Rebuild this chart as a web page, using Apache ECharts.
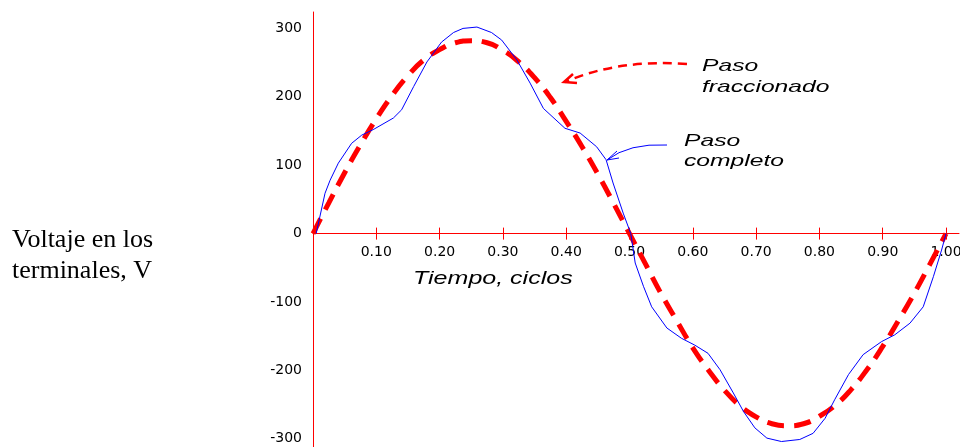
<!DOCTYPE html>
<html>
<head>
<meta charset="utf-8">
<title>Voltaje en los terminales</title>
<script src="https://cdn.jsdelivr.net/npm/echarts@6/dist/echarts.min.js"></script>
<style>
    html, body { margin: 0; padding: 0; background: #fff; }
    #chart { width: 960px; height: 447px; }
</style>
</head>
<body>
<div id="chart"></div>
<script>
// Paso fraccionado (linea roja discontinua)
var fracTime = [0, 0.025, 0.05, 0.075, 0.1, 0.125, 0.15, 0.175, 0.2, 0.225, 0.25, 0.275, 0.3, 0.325, 0.35, 0.375, 0.4, 0.425, 0.45, 0.475, 0.5,
    0.525, 0.55, 0.575, 0.6, 0.625, 0.65, 0.675, 0.7, 0.725, 0.75, 0.775, 0.8, 0.825, 0.85, 0.875, 0.9, 0.925, 0.95, 0.975, 1.0];
var fracVolt = [0, 45, 89, 130, 168, 202, 231, 254, 269, 279, 282, 279, 268, 251, 228, 199, 164, 127, 87, 44, 0,
    -44, -88, -128, -167, -200, -229, -252, -268, -278, -281, -278, -267, -251, -228, -199, -165, -127, -87, -44, 0];

// Paso completo (linea azul)
var fullTime = [0.005, 0.019, 0.027, 0.040, 0.061, 0.077, 0.095, 0.127, 0.140, 0.159, 0.180, 0.203, 0.222, 0.237, 0.259,
    0.282, 0.298, 0.322, 0.343, 0.364, 0.398, 0.422, 0.448, 0.463, 0.474, 0.490, 0.502, 0.509, 0.522, 0.535,
    0.559, 0.582, 0.603, 0.624, 0.643, 0.664, 0.680, 0.698, 0.717, 0.740, 0.769, 0.790, 0.809, 0.824, 0.846,
    0.869, 0.898, 0.919, 0.943, 0.964, 0.980, 0.993, 1.000];
var fullVolt = [0, 59, 78, 103, 132, 144, 152, 169, 181, 215, 251, 280, 294, 300, 302,
    294, 283, 254, 220, 183, 154, 147, 127, 108, 74, 30, 0, -43, -77, -107,
    -138, -153, -163, -175, -199, -233, -260, -284, -299, -304, -301, -292, -270, -243, -206,
    -177, -158, -148, -131, -107, -63, -24, 0];

var xTicks = [0.1, 0.2, 0.3, 0.4, 0.5, 0.6, 0.7, 0.8, 0.9, 1.0];
var yTicks = [-300, -200, -100, 0, 100, 200, 300];

var X_MIN = 0, X_MAX = 1.0205;
var Y_MIN = -312, Y_MAX = 324;

var RED = '#ff0000';
var BLUE = '#0000ff';
var SANS = 'Liberation Sans, Arial, sans-serif';

var PLOT_TOP = 12;
var PLOT_H = 447 - PLOT_TOP;
// el eje de tiempo va en y = 0: una segunda rejilla termina justo ahi
var zeroFromBottom = 447 - (PLOT_TOP + PLOT_H * Y_MAX / (Y_MAX - Y_MIN));

function toPairs(xs, ys) {
    var res = [];
    for (var i = 0; i < xs.length; i++) {
        res.push([xs[i], ys[i]]);
    }
    return res;
}

// texto estirado en horizontal, como en la figura original
function wideText(text, x, y, size, stretch) {
    return {
        type: 'text',
        x: x,
        y: y,
        scaleX: stretch,
        silent: true,
        style: {
            text: text,
            fontSize: size,
            fontStyle: 'italic',
            fontFamily: SANS,
            fill: '#000',
            textAlign: 'left',
            textVerticalAlign: 'middle',
            align: 'left',
            verticalAlign: 'middle'
        }
    };
}

function serifText(text, x, y) {
    return {
        type: 'text',
        x: x,
        y: y,
        silent: true,
        style: {
            text: text,
            fontSize: 26,
            fontFamily: 'Liberation Serif, Times New Roman, serif',
            fill: '#000',
            textAlign: 'left',
            textVerticalAlign: 'middle',
            align: 'left',
            verticalAlign: 'middle'
        }
    };
}

function timeAxis(inside) {
    return {
        type: 'value',
        gridIndex: 1,
        min: X_MIN,
        max: X_MAX,
        position: 'bottom',
        axisLine: {
            show: !inside,
            onZero: false,
            lineStyle: { color: RED, width: 1 }
        },
        axisTick: {
            show: true,
            inside: inside,
            length: 6,
            customValues: xTicks,
            lineStyle: { color: RED, width: 1 }
        },
        axisLabel: {
            show: !inside,
            customValues: xTicks,
            margin: 12,
            color: '#000',
            fontSize: 14,
            fontFamily: 'DejaVu Sans, sans-serif',
            formatter: function (value) {
                return value.toFixed(2);
            }
        },
        splitLine: { show: false }
    };
}

var myChart = echarts.init(document.getElementById('chart'));

var option = {
    animation: false,
    backgroundColor: '#fff',
    grid: [{
            left: 313,
            right: 1,
            top: PLOT_TOP,
            bottom: 0,
            outerBoundsMode: 'none'
        },
        {
            left: 313,
            right: 1,
            top: PLOT_TOP,
            bottom: zeroFromBottom,
            outerBoundsMode: 'none'
        }
    ],
    xAxis: [{
            type: 'value',
            gridIndex: 0,
            min: X_MIN,
            max: X_MAX,
            show: false
        },
        timeAxis(false),
        timeAxis(true)
    ],
    yAxis: [{
            type: 'value',
            gridIndex: 0,
            min: Y_MIN,
            max: Y_MAX,
            position: 'left',
            axisLine: {
                show: true,
                onZero: false,
                lineStyle: { color: RED, width: 1 }
            },
            axisTick: { show: false },
            axisLabel: {
                customValues: yTicks,
                margin: 11,
                color: '#000',
                fontSize: 14,
                fontFamily: 'DejaVu Sans, sans-serif'
            },
            splitLine: { show: false }
        },
        {
            type: 'value',
            gridIndex: 1,
            min: 0,
            max: Y_MAX,
            show: false
        }
    ],
    series: [{
            name: 'Paso fraccionado',
            type: 'line',
            xAxisIndex: 0,
            yAxisIndex: 0,
            data: toPairs(fracTime, fracVolt),
            smooth: true,
            showSymbol: false,
            lineStyle: {
                color: RED,
                width: 5,
                type: [17, 10],
                cap: 'butt'
            },
            z: 2
        },
        {
            name: 'Paso completo',
            type: 'line',
            xAxisIndex: 0,
            yAxisIndex: 0,
            data: toPairs(fullTime, fullVolt),
            showSymbol: false,
            lineStyle: {
                color: BLUE,
                width: 1
            },
            z: 3
        }
    ],
    graphic: [
        serifText('Voltaje en los', 12, 240),
        serifText('terminales, V', 12, 271),
        wideText('Tiempo, ciclos', 413, 279, 18, 1.39),
        wideText('Paso', 702, 66, 17, 1.45),
        wideText('fraccionado', 702, 87, 17, 1.45),
        wideText('Paso', 684, 141, 17, 1.45),
        wideText('completo', 684, 161, 17, 1.45),
        {
            // flecha discontinua hacia la curva roja
            type: 'bezierCurve',
            silent: true,
            shape: { x1: 687, y1: 64, cpx1: 618, cpy1: 59, x2: 565, y2: 82 },
            style: { stroke: RED, lineWidth: 2.5, lineDash: [9, 6], fill: null }
        },
        {
            type: 'polyline',
            silent: true,
            shape: { points: [[573, 74], [564, 82], [577, 83]] },
            style: { stroke: RED, lineWidth: 2.5, fill: null }
        },
        {
            // flecha hacia la curva azul
            type: 'bezierCurve',
            silent: true,
            shape: { x1: 667, y1: 145, cpx1: 629, cpy1: 143, x2: 607, y2: 160 },
            style: { stroke: BLUE, lineWidth: 1, fill: null }
        },
        {
            type: 'polyline',
            silent: true,
            shape: { points: [[617, 151], [607, 160], [619, 158]] },
            style: { stroke: BLUE, lineWidth: 1, fill: null }
        }
    ]
};
myChart.setOption(option);
</script>
</body>
</html>
